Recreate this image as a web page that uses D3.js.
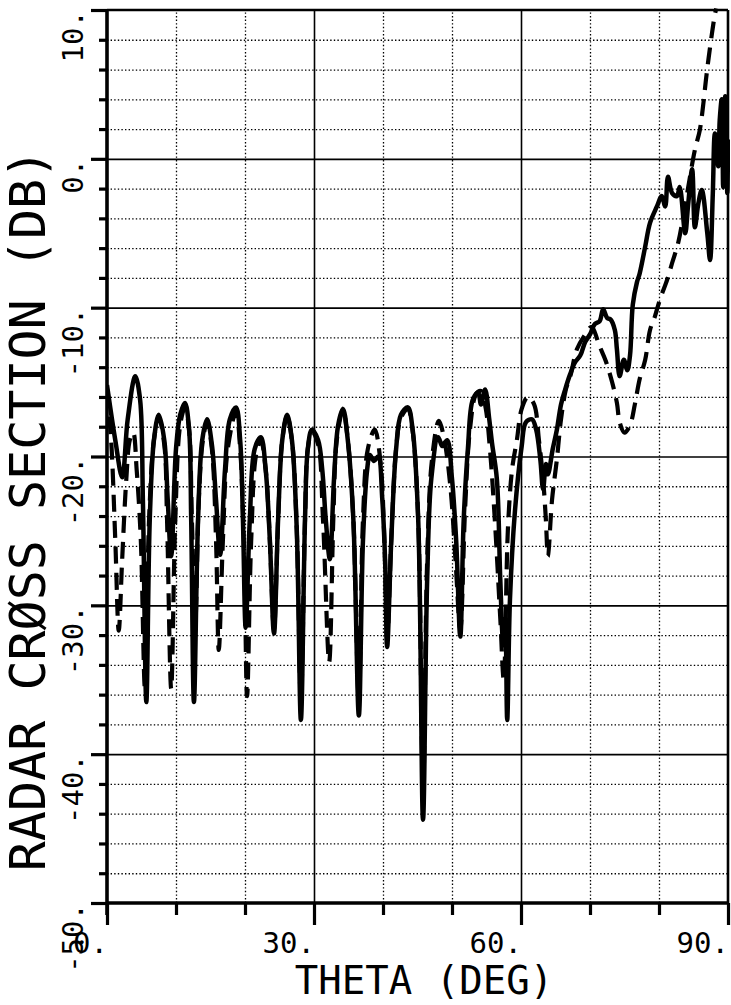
<!DOCTYPE html>
<html>
<head>
<meta charset="utf-8">
<script src="https://cdn.jsdelivr.net/npm/d3@7"></script>
<style>
  html, body { margin: 0; padding: 0; background: #fff; }
  svg text { font-family: "DejaVu Sans Mono", "Liberation Mono", monospace; fill: #000; }
</style>
</head>
<body>
<div id="chart"></div>
<script>
// solid curve: theta (deg) and RCS (dB)
const solidTheta = [
  0, 1.2, 2.2, 3.0, 4.1, 4.8, 5.2, 5.7, 6.2, 6.8,
  7.5, 8.3, 8.8, 9.3, 10.0, 10.6, 11.3, 11.9, 12.2, 12.6,
  13.2, 13.8, 14.5, 15.2, 15.8, 16.4, 17.1, 17.8, 18.7, 19.3,
  19.7, 20.1, 20.7, 21.4, 22.3, 23.0, 23.6, 24.2, 24.8, 25.4,
  26.1, 26.8, 27.5, 28.1, 28.7, 29.1, 29.7, 30.6, 31.2, 31.7,
  32.3, 32.9, 33.5, 34.2, 34.9, 35.7, 36.5, 37.1, 37.7, 38.1,
  38.7, 39.3, 39.9, 40.3, 40.6, 41.2, 41.9, 42.6, 43.6, 44.3,
  45.1, 45.8, 46.4, 47.0, 48.0, 48.6, 49.3, 50.0, 50.6, 51.2,
  51.7, 52.3, 53.0, 53.8, 54.2, 54.8, 55.4, 55.8, 56.5, 57.0,
  57.4, 57.7, 58.0, 58.4, 59.1, 60.1, 60.7, 61.6, 62.2, 62.8,
  63.2, 63.6, 63.9, 64.6, 65.2, 65.8, 66.4, 67.1, 67.8, 68.6,
  69.3, 70.0, 70.7, 71.4, 71.9, 72.5, 73.0, 73.6, 73.9, 74.3,
  74.9, 75.4, 75.8, 76.2, 76.8, 77.2, 78.0, 78.7, 79.7, 80.4,
  80.9, 81.3, 81.9, 82.6, 83.0, 83.8, 84.2, 84.8, 85.2, 85.7,
  86.2, 87.0, 87.4, 87.8, 88.1, 88.6, 88.8, 89.1, 89.3, 89.6,
  89.9, 90
];
const solidDb = [
  -15.2, -18.9, -21.4, -17.5, -14.6, -16.2, -22.9, -36.5, -24.2, -18.9,
  -17.2, -18.9, -22.9, -26.7, -19.5, -17.2, -16.4, -18.2, -24.2, -36.5,
  -24.2, -18.9, -17.5, -19.2, -22.9, -26.6, -20.9, -17.5, -16.7, -18.9,
  -24.2, -31.5, -24.2, -19.5, -18.7, -20.9, -25.6, -31.9, -24.2, -18.9,
  -17.2, -18.9, -24.9, -37.7, -24.2, -19.5, -18.2, -18.9, -20.9, -24.2,
  -26.9, -21.5, -17.9, -16.8, -18.9, -24.2, -37.4, -25.6, -20.9, -19.9,
  -20.3, -20.0, -22.9, -26.9, -32.8, -25.6, -19.5, -17.2, -16.7, -18.2,
  -24.2, -44.4, -28.3, -21.5, -18.7, -19.3, -18.9, -21.5, -25.6, -32.1,
  -24.2, -19.5, -16.2, -15.7, -16.5, -15.5, -17.5, -19.1, -21.5, -28.3,
  -32.3, -30.9, -37.7, -29.6, -23.8, -19.3, -17.7, -17.5, -18.2, -20.2,
  -22.2, -20.5, -21.2, -19.5, -18.2, -16.5, -15.5, -14.5, -13.7, -13.2,
  -12.3, -11.8, -11.1, -10.9, -10.1, -10.7, -10.8, -11.5, -12.8, -14.6,
  -13.5, -14.2, -13.2, -9.8, -8.3, -7.7, -5.9, -4.3, -3.2, -2.5,
  -3.2, -1.2, -2.3, -2.5, -1.9, -5.0, -3.2, -0.7, -4.6, -3.0,
  -2.1, -5.0, -6.8, -2.3, 1.7, -0.5, 2.6, 4.0, -1.9, 4.2,
  -2.3, 1.3
];

// dashed curve
const dashTheta = [
  0, 0.6, 1.2, 1.7, 2.2, 2.8, 3.3, 3.8, 4.3, 4.9,
  5.5, 6.1, 6.8, 7.5, 8.3, 8.7, 9.3, 9.9, 10.6, 11.3,
  11.9, 12.3, 12.8, 13.3, 13.9, 14.5, 15.2, 15.8, 16.2, 16.8,
  17.5, 18.7, 19.3, 19.9, 20.3, 20.9, 21.6, 22.3, 23.0, 23.6,
  24.2, 24.8, 25.4, 26.1, 26.8, 27.5, 28.1, 28.7, 29.1, 29.7,
  30.6, 31.3, 32.2, 32.8, 33.3, 34.2, 34.9, 35.7, 36.5, 37.1,
  37.8, 38.8, 39.6, 40.2, 40.6, 41.2, 41.9, 42.6, 43.6, 44.3,
  45.1, 45.8, 46.4, 47.1, 48.1, 48.9, 49.8, 50.5, 51.2, 51.9,
  52.6, 53.5, 54.2, 54.9, 55.5, 56.2, 57.0, 57.5, 58.1, 58.7,
  59.4, 60.1, 61.0, 61.9, 62.6, 63.2, 63.6, 63.9, 64.5, 65.2,
  65.8, 66.5, 67.2, 68.1, 69.3, 70.2, 71.4, 72.3, 73.2, 73.9,
  74.3, 75.0, 75.8, 76.5, 77.2, 78.0, 78.7, 79.4, 80.1, 81.2,
  81.9, 82.8, 83.9, 85.2, 85.9, 86.4, 86.8, 87.2, 87.7, 88.1,
  88.3
];
const dashDb = [
  -15.6, -18.9, -25.6, -31.7, -26.9, -21.5, -18.9, -18.4, -20.9, -25.6,
  -35.6, -24.2, -18.9, -17.4, -19.2, -24.2, -35.6, -24.2, -17.9, -16.7,
  -18.2, -24.2, -31.0, -22.9, -18.9, -17.7, -19.5, -25.6, -33.0, -25.6,
  -19.5, -17.0, -19.5, -26.9, -36.1, -25.6, -19.9, -18.9, -20.9, -25.6,
  -31.6, -24.2, -18.9, -17.3, -18.9, -24.9, -36.3, -24.2, -19.5, -18.3,
  -19.2, -24.2, -33.8, -24.2, -18.9, -16.9, -18.9, -24.2, -36.3, -24.2,
  -19.5, -18.2, -20.2, -25.6, -32.3, -25.6, -19.5, -17.4, -16.8, -18.3,
  -24.2, -42.3, -27.0, -20.2, -17.6, -18.9, -22.2, -26.9, -31.6, -23.5,
  -18.2, -15.8, -15.6, -16.8, -19.5, -24.2, -30.9, -35.0, -24.9, -20.9,
  -18.9, -16.8, -16.0, -16.5, -18.9, -21.5, -24.2, -26.7, -22.9, -20.2,
  -17.5, -15.5, -14.5, -12.8, -11.8, -11.3, -12.6, -13.6, -15.0, -16.4,
  -17.7, -18.4, -17.9, -16.5, -14.8, -13.5, -11.5, -10.6, -9.5, -8.1,
  -7.0, -5.6, -2.8, 0.6, 1.9, 3.6, 5.3, 6.8, 8.5, 9.7,
  10.1
];

// ticks and labels
const xMajor = [0, 30, 60, 90];
const xMinor = [10, 20, 40, 50, 70, 80];
const xTickLabels = ["0.", "30.", "60.", "90."];
const yMajor = [-50, -40, -30, -20, -10, 0, 10];
const yTickLabels = ["-50.", "-40.", "-30.", "-20.", "-10.", "0.", "10."];
const yMinor = d3.range(-48, 10, 2).filter(v => v % 10 !== 0);

const width = 731, height = 1005;
const margin = { top: 10, right: 3, bottom: 102, left: 107 };
const innerW = width - margin.left - margin.right;
const innerH = height - margin.top - margin.bottom;

const svg = d3.select("#chart")
  .append("svg")
  .attr("width", width)
  .attr("height", height);

const g = svg.append("g")
  .attr("transform", `translate(${margin.left},${margin.top})`);

const x = d3.scaleLinear().domain([0, 90]).range([0, innerW]);
const y = d3.scaleLinear().domain([-50, 10]).range([innerH, 0]);

// dotted minor grid
g.append("g")
  .attr("class", "grid-minor")
  .attr("transform", `translate(0,${innerH})`)
  .call(d3.axisBottom(x).tickValues(xMinor).tickSize(-innerH).tickFormat(""));
g.append("g")
  .attr("class", "grid-minor")
  .call(d3.axisLeft(y).tickValues(yMinor).tickSize(-innerW).tickFormat(""));
g.selectAll(".grid-minor line")
  .attr("stroke", "#000")
  .attr("stroke-width", 1.3)
  .attr("stroke-dasharray", "1.4,2.2");

// solid major grid
g.append("g")
  .attr("class", "grid-major")
  .attr("transform", `translate(0,${innerH})`)
  .call(d3.axisBottom(x).tickValues([30, 60]).tickSize(-innerH).tickFormat(""));
g.append("g")
  .attr("class", "grid-major")
  .call(d3.axisLeft(y).tickValues([-40, -30, -20, -10, 0]).tickSize(-innerW).tickFormat(""));
g.selectAll(".grid-major line")
  .attr("stroke", "#000")
  .attr("stroke-width", 1.6);
g.selectAll(".grid-minor .domain, .grid-major .domain").remove();

// outward ticks
function ticks(axis, cls, transform) {
  const a = g.append("g").attr("class", cls).call(axis);
  if (transform) a.attr("transform", transform);
  a.select(".domain").remove();
  a.selectAll("line").attr("stroke", "#000");
  return a;
}
ticks(d3.axisLeft(y).tickValues(yMajor).tickSize(16).tickFormat(""), "ytick")
  .selectAll("line").attr("stroke-width", 3.2);
ticks(d3.axisLeft(y).tickValues(yMinor).tickSize(8).tickFormat(""), "ytick")
  .selectAll("line").attr("stroke-width", 3.2);
ticks(d3.axisBottom(x).tickValues(xMajor).tickSize(22).tickFormat(""), "xtick", `translate(0,${innerH})`)
  .selectAll("line").attr("stroke-width", 3.2);
ticks(d3.axisBottom(x).tickValues(xMinor).tickSize(12).tickFormat(""), "xtick", `translate(0,${innerH})`)
  .selectAll("line").attr("stroke-width", 3.2);

// frame
g.append("line").attr("x1", 0).attr("x2", innerW).attr("y1", 0).attr("y2", 0)
  .attr("stroke", "#000").attr("stroke-width", 2.6);
g.append("line").attr("x1", innerW).attr("x2", innerW).attr("y1", 0).attr("y2", innerH)
  .attr("stroke", "#000").attr("stroke-width", 2.6);
g.append("line").attr("x1", 0).attr("x2", innerW).attr("y1", innerH).attr("y2", innerH)
  .attr("stroke", "#000").attr("stroke-width", 3.6);
g.append("line").attr("x1", 0).attr("x2", 0).attr("y1", 0).attr("y2", innerH + 12)
  .attr("stroke", "#000").attr("stroke-width", 3.6);

// curves
g.append("clipPath").attr("id", "plot-clip")
  .append("rect").attr("x", 0).attr("y", -2).attr("width", innerW + 2).attr("height", innerH + 2);

const line = d3.line()
  .x(d => x(d[0]))
  .y(d => y(d[1]))
  .curve(d3.curveCatmullRom.alpha(0.5));

g.append("path")
  .datum(d3.zip(dashTheta, dashDb))
  .attr("clip-path", "url(#plot-clip)")
  .attr("fill", "none")
  .attr("stroke", "#000")
  .attr("stroke-width", 4.2)
  .attr("stroke-dasharray", "17,9")
  .attr("d", line);

g.append("path")
  .datum(d3.zip(solidTheta, solidDb))
  .attr("clip-path", "url(#plot-clip)")
  .attr("fill", "none")
  .attr("stroke", "#000")
  .attr("stroke-width", 4.5)
  .attr("stroke-linejoin", "round")
  .attr("d", line);

// tick labels
g.selectAll(".xlabel")
  .data(xMajor)
  .join("text")
  .attr("class", "xlabel")
  .attr("x", d => x(d) + 1)
  .attr("y", innerH + 50)
  .attr("text-anchor", "end")
  .style("font-size", "29px")
  .text((d, i) => xTickLabels[i]);

g.selectAll(".ylabel")
  .data(yMajor)
  .join("text")
  .attr("class", "ylabel")
  .attr("transform", d => `translate(-24,${y(d)}) rotate(-90)`)
  .attr("text-anchor", "end")
  .style("font-size", "29px")
  .text((d, i) => yTickLabels[i]);

// axis titles
svg.append("text")
  .attr("x", 424)
  .attr("y", 994)
  .attr("text-anchor", "middle")
  .style("font-size", "39px")
  .text("THETA (DEG)");

svg.append("text")
  .attr("transform", "translate(45,510) rotate(-90)")
  .attr("text-anchor", "middle")
  .style("font-size", "50px")
  .text("RADAR CRØSS SECTION (DB)");
</script>
</body>
</html>
